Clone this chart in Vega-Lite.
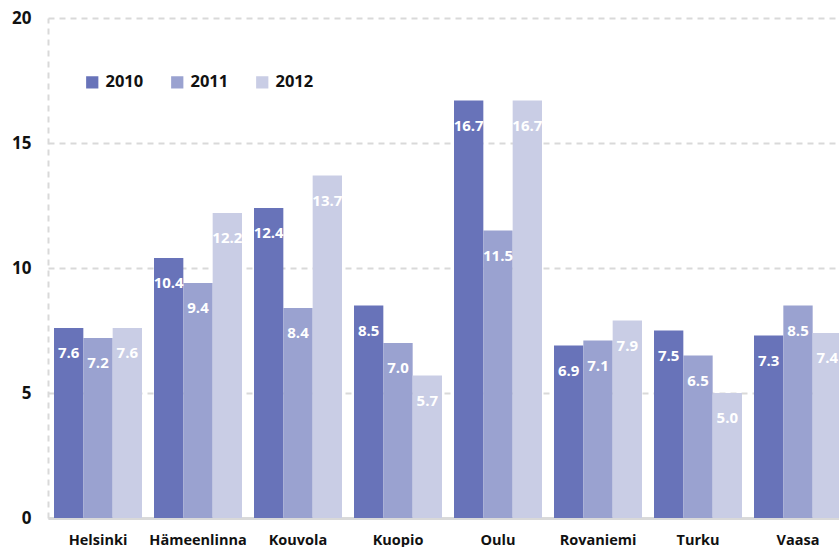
{
  "$schema": "https://vega.github.io/schema/vega-lite/v6.json",
  "width": 800,
  "height": 500,
  "autosize": {"type": "none"},
  "padding": {"left": 48, "top": 18, "right": 0, "bottom": 29},
  "background": "white",
  "config": {
    "view": {"stroke": null},
    "font": "Open Sans"
  },
  "data": {
    "values": [
      {"city": "Helsinki", "year": "2010", "value": 7.6},
      {"city": "Helsinki", "year": "2011", "value": 7.2},
      {"city": "Helsinki", "year": "2012", "value": 7.6},
      {"city": "Hämeenlinna", "year": "2010", "value": 10.4},
      {"city": "Hämeenlinna", "year": "2011", "value": 9.4},
      {"city": "Hämeenlinna", "year": "2012", "value": 12.2},
      {"city": "Kouvola", "year": "2010", "value": 12.4},
      {"city": "Kouvola", "year": "2011", "value": 8.4},
      {"city": "Kouvola", "year": "2012", "value": 13.7},
      {"city": "Kuopio", "year": "2010", "value": 8.5},
      {"city": "Kuopio", "year": "2011", "value": 7.0},
      {"city": "Kuopio", "year": "2012", "value": 5.7},
      {"city": "Oulu", "year": "2010", "value": 16.7},
      {"city": "Oulu", "year": "2011", "value": 11.5},
      {"city": "Oulu", "year": "2012", "value": 16.7},
      {"city": "Rovaniemi", "year": "2010", "value": 6.9},
      {"city": "Rovaniemi", "year": "2011", "value": 7.1},
      {"city": "Rovaniemi", "year": "2012", "value": 7.9},
      {"city": "Turku", "year": "2010", "value": 7.5},
      {"city": "Turku", "year": "2011", "value": 6.5},
      {"city": "Turku", "year": "2012", "value": 5.0},
      {"city": "Vaasa", "year": "2010", "value": 7.3},
      {"city": "Vaasa", "year": "2011", "value": 8.5},
      {"city": "Vaasa", "year": "2012", "value": 7.4}
    ]
  },
  "encoding": {
    "x": {
      "field": "city", "type": "nominal", "sort": null,
      "scale": {"paddingInner": 0.12, "paddingOuter": 0.06},
      "axis": {
        "title": null, "labelAngle": 0, "ticks": false,
        "labelFont": "Open Sans", "labelFontWeight": "bold", "labelFontSize": 14.5,
        "labelColor": "#111111", "labelPadding": 15,
        "domainColor": "#d9d9d9", "domainWidth": 3
      }
    },
    "xOffset": {"field": "year", "type": "nominal", "sort": ["2010", "2011", "2012"]},
    "y": {
      "field": "value", "type": "quantitative",
      "scale": {"domain": [0, 20]},
      "axis": {
        "title": null, "values": [0, 5, 10, 15, 20], "ticks": false,
        "labelFont": "Open Sans", "labelFontWeight": "bold", "labelFontSize": 17,
        "labelColor": "#111111", "labelPadding": 17,
        "domainColor": "#d9d9d9", "domainWidth": 2, "domainDash": [6, 5],
        "grid": true, "gridColor": "#d9d9d9", "gridWidth": 2, "gridDash": [6, 5]
      }
    }
  },
  "layer": [
    {
      "mark": {"type": "bar"},
      "encoding": {
        "color": {
          "field": "year", "type": "nominal",
          "scale": {"domain": ["2010", "2011", "2012"], "range": ["#6873b9", "#9aa2d0", "#c9cde5"]},
          "legend": {
            "title": null, "orient": "none", "direction": "horizontal",
            "legendX": 36, "legendY": 56,
            "symbolType": "square", "symbolSize": 150, "symbolStrokeWidth": 0,
            "symbolOpacity": 1,
            "labelFont": "Open Sans", "labelFontWeight": "bold", "labelFontSize": 16.5,
            "labelColor": "#111111", "labelOffset": 5, "columnPadding": 25
          }
        }
      }
    },
    {
      "mark": {
        "type": "text", "color": "white", "fontWeight": "bold", "fontSize": 15,
        "font": "Open Sans", "baseline": "middle", "dy": 25
      },
      "encoding": {
        "text": {"field": "value", "type": "quantitative", "format": ".1f"}
      }
    }
  ]
}
